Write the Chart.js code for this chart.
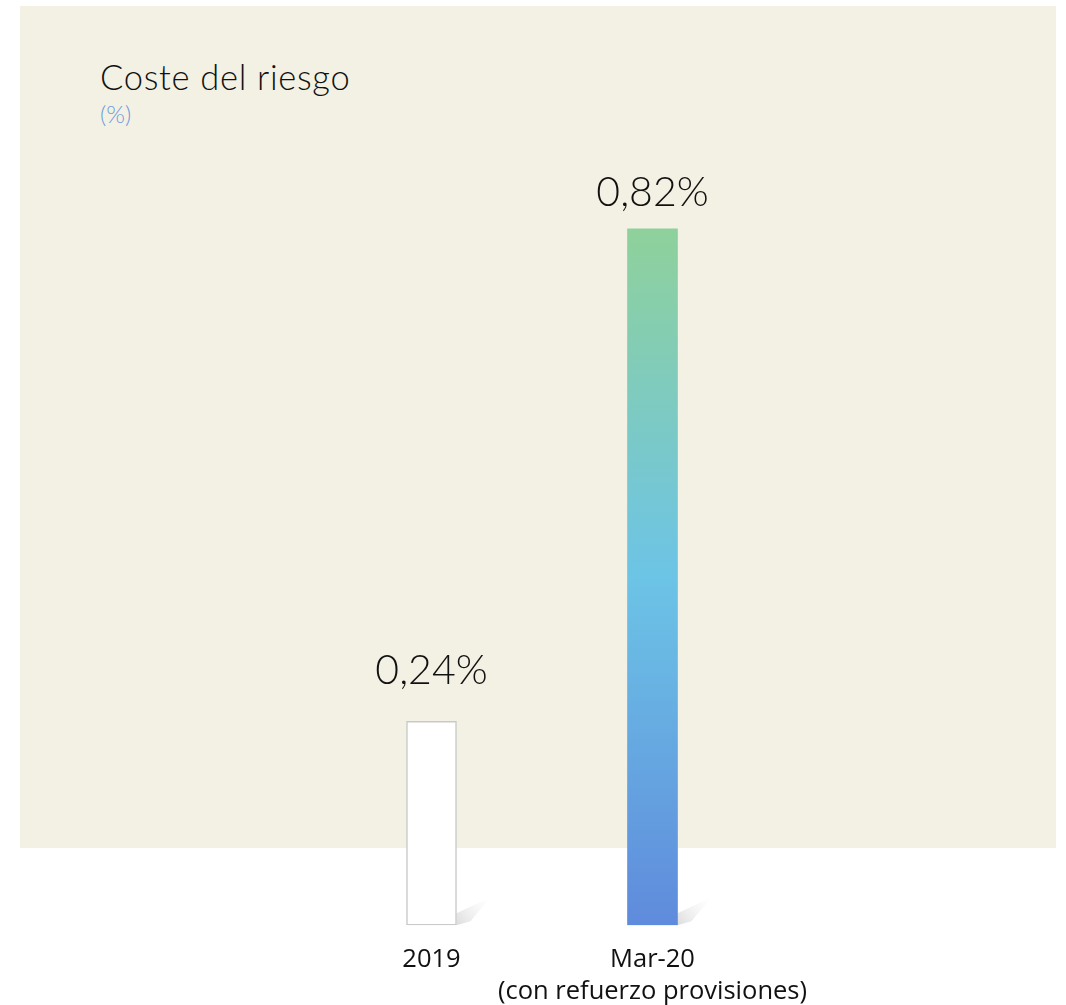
<!DOCTYPE html>
<html>
<head>
<meta charset="utf-8">
<script src="https://cdn.jsdelivr.net/npm/chart.js@4.4.1/dist/chart.umd.min.js"></script>
<style>
  html,body{margin:0;padding:0;background:#fff;}
  #wrap{position:relative;width:1066px;height:1005px;overflow:hidden;font-family:Lato,"Open Sans",sans-serif;}
  #panel{position:absolute;left:20px;top:6px;width:1036px;height:842px;background:#F3F1E4;}
  #title{position:absolute;left:100px;top:56px;font-size:34.5px;color:#111;font-weight:300;letter-spacing:0.7px;}
  #unit{position:absolute;left:100px;top:99px;font-size:24px;color:#6F9BE0;font-weight:300;}
  #c{position:absolute;left:0;top:0;}
</style>
</head>
<body>
<div id="wrap">
  <div id="panel"></div>
  <div id="title">Coste del riesgo</div>
  <div id="unit">(%)</div>
  <canvas id="c" width="1066" height="1005"></canvas>
</div>
<script>
// ─── DATOS ───
const categorias = [['2019'], ['Mar-20', '(con refuerzo provisiones)']];
const valores = [0.24, 0.82];
const etiquetas = ['0,24%', '0,82%'];

// separación de la etiqueta respecto a la barra
const labelGap = [51, 36];

function barFill(ctx) {
  if (ctx.dataIndex === 0) return '#ffffff';
  const chart = ctx.chart, area = chart.chartArea, y = chart.scales && chart.scales.y;
  if (!area || !y) return '#6CC4E6';
  const top = y.getPixelForValue(valores[ctx.dataIndex]);
  if (!isFinite(top) || !isFinite(area.bottom)) return '#6CC4E6';
  const g = chart.ctx.createLinearGradient(0, top, 0, area.bottom);
  g.addColorStop(0, '#8FD19B');
  g.addColorStop(0.5, '#6CC4E6');
  g.addColorStop(1, '#5F8BDC');
  return g;
}

const shadowPlugin = {
  id: 'shadow',
  beforeDatasetsDraw(chart) {
    const c = chart.ctx;
    chart.getDatasetMeta(0).data.forEach(b => {
      const xr = b.x + b.width / 2, yb = b.base;
      const g = c.createLinearGradient(xr, yb, xr + 34, yb - 28);
      g.addColorStop(0, 'rgba(205,205,205,0.7)');
      g.addColorStop(1, 'rgba(240,240,240,0)');
      c.save();
      c.fillStyle = g;
      c.beginPath();
      c.moveTo(xr, yb);
      c.lineTo(xr, yb - 12);
      c.lineTo(xr + 34, yb - 28);
      c.lineTo(xr + 14, yb - 4);
      c.closePath();
      c.fill();
      c.restore();
    });
  }
};

const valueLabels = {
  id: 'valueLabels',
  afterDatasetsDraw(chart) {
    const c = chart.ctx;
    c.save();
    c.font = '300 41px Lato, sans-serif';
    c.fillStyle = '#111';
    c.textAlign = 'center';
    c.textBaseline = 'middle';
    chart.getDatasetMeta(0).data.forEach((b, i) => {
      c.fillText(etiquetas[i], b.x, b.y - labelGap[i]);
    });
    c.restore();
  }
};

new Chart(document.getElementById('c').getContext('2d'), {
  type: 'bar',
  data: {
    labels: categorias,
    datasets: [{
      data: valores,
      backgroundColor: barFill,
      borderColor: ['#C9C9C9', 'rgba(0,0,0,0)'],
      borderWidth: [1.5, 0],
      borderSkipped: false,
      barThickness: 50
    }]
  },
  options: {
    responsive: false,
    animation: false,
    layout: { padding: { left: 321, right: 303, top: 161, bottom: -14 } },
    plugins: { legend: { display: false }, tooltip: { enabled: false } },
    scales: {
      x: {
        grid: { display: false },
        border: { display: false },
        ticks: {
          color: '#111',
          padding: 11,
          maxRotation: 0,
          minRotation: 0,
          autoSkip: false,
          font: { family: 'Open Sans', size: 25.5, lineHeight: 1.25 }
        }
      },
      y: {
        display: false,
        min: 0,
        max: 0.9
      }
    }
  },
  plugins: [shadowPlugin, valueLabels]
});
</script>
</body>
</html>
